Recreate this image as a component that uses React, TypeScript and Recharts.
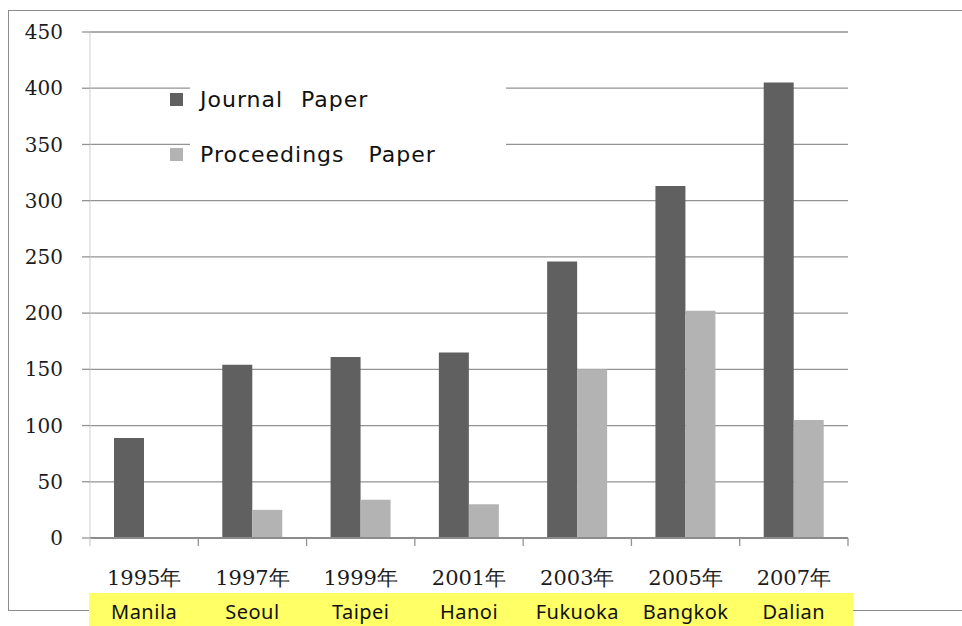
import React from "react";
import { BarChart, Bar, XAxis, YAxis, CartesianGrid, Legend } from "recharts";

const years = ["1995年", "1997年", "1999年", "2001年", "2003年", "2005年", "2007年"];
const cities = ["Manila", "Seoul", "Taipei", "Hanoi", "Fukuoka", "Bangkok", "Dalian"];
const journalPapers = [89, 154, 161, 165, 246, 313, 405];
const proceedingsPapers = [0, 25, 34, 30, 150, 202, 105];
const yTicks = [0, 50, 100, 150, 200, 250, 300, 350, 400, 450];

const data = years.map((year, i) => ({
  year,
  city: cities[i],
  journal: journalPapers[i],
  proceedings: proceedingsPapers[i],
}));

const TICK_SIZE = 8;
const GRID = "#939393";
const SERIF = "'DejaVu Serif', 'Liberation Serif', serif";
const SANS = "'Noto Sans', 'DejaVu Sans', sans-serif";

// year + host city under each category, with tick marks on the band edges
function YearTick(props: any) {
  const { x, y, payload } = props;
  const half = payload?.offset || 54;
  const idx = years.indexOf(payload.value);
  const top = y - TICK_SIZE;
  return (
    <g>
      <line x1={x - half} x2={x - half} y1={top} y2={y} stroke={idx === 0 ? "#cfcfcf" : GRID} strokeWidth={1.3} />
      {idx === years.length - 1 && (
        <line x1={x + half} x2={x + half} y1={top} y2={y} stroke={GRID} strokeWidth={1.3} />
      )}
      <text x={x} y={y} dy={39} textAnchor="middle" fontFamily={SERIF} fontSize={21} fill="#1c1c1c">
        {payload.value}
      </text>
      <text x={x} y={y} dy={73} textAnchor="middle" fontFamily={SANS} fontSize={20} letterSpacing={0.5} fill="#111">
        {cities[idx]}
      </text>
    </g>
  );
}

function PaperLegend(props: any) {
  const { payload = [] } = props;
  const rowCenters = [37, 92];
  return (
    <div style={{ position: "relative", width: 341, height: 110 }}>
      <div style={{ position: "absolute", left: 25, top: 0, width: 316, height: 110, background: "#fff" }} />
      {payload.map((entry: any, i: number) => (
        <div
          key={entry.value}
          style={{
            position: "absolute",
            left: 5,
            top: rowCenters[i] - 15,
            height: 30,
            display: "flex",
            alignItems: "center",
            whiteSpace: "nowrap",
          }}
        >
          <span style={{ width: 13, height: 13, background: entry.color, display: "inline-block" }} />
          <span
            style={{
              marginLeft: 17,
              fontFamily: "'DejaVu Sans', sans-serif",
              fontSize: 22,
              letterSpacing: 1,
              wordSpacing: i === 0 ? 10 : 16,
              color: "#111",
            }}
          >
            {entry.value}
          </span>
        </div>
      ))}
    </div>
  );
}

export default function App() {
  return (
    <div style={{ position: "absolute", left: 0, top: 0, width: 962, height: 626, overflow: "hidden", background: "#fff" }}>
      <div
        style={{
          position: "absolute",
          left: 8,
          top: 10,
          width: 1000,
          height: 601,
          border: "1.5px solid #8c8c8c",
          boxSizing: "border-box",
        }}
      />
      <div style={{ position: "absolute", left: 89, top: 593, width: 764, height: 40, background: "#ffff66" }} />
      <div style={{ position: "absolute", left: 0, top: 0 }}>
        <BarChart
          width={962}
          height={626}
          data={data}
          margin={{ top: 32, right: 114, bottom: 28, left: 8 }}
          barGap={0}
        >
          <CartesianGrid vertical={false} stroke={GRID} strokeWidth={1.3} />
          <YAxis
            width={82}
            domain={[0, 450]}
            ticks={yTicks}
            interval={0}
            tickSize={TICK_SIZE}
            tickMargin={19}
            tickLine={{ stroke: GRID, strokeWidth: 1.3 }}
            axisLine={{ stroke: "#cfcfcf", strokeWidth: 1 }}
            tick={{ fontFamily: SERIF, fontSize: 20, fill: "#1c1c1c" }}
          />
          <XAxis
            dataKey="year"
            height={60}
            interval={0}
            tickSize={TICK_SIZE}
            tickMargin={0}
            tickLine={false}
            axisLine={{ stroke: "#8c8c8c", strokeWidth: 2 }}
            tick={<YearTick />}
          />
          <Legend
            layout="horizontal"
            verticalAlign="middle"
            align="center"
            content={<PaperLegend />}
            wrapperStyle={{ left: 165, top: 62, width: 341, height: 110 }}
          />
          <Bar dataKey="journal" name="Journal Paper" fill="#606060" barSize={30} isAnimationActive={false} />
          <Bar dataKey="proceedings" name="Proceedings Paper" fill="#b3b3b3" barSize={30} isAnimationActive={false} />
        </BarChart>
      </div>
    </div>
  );
}
